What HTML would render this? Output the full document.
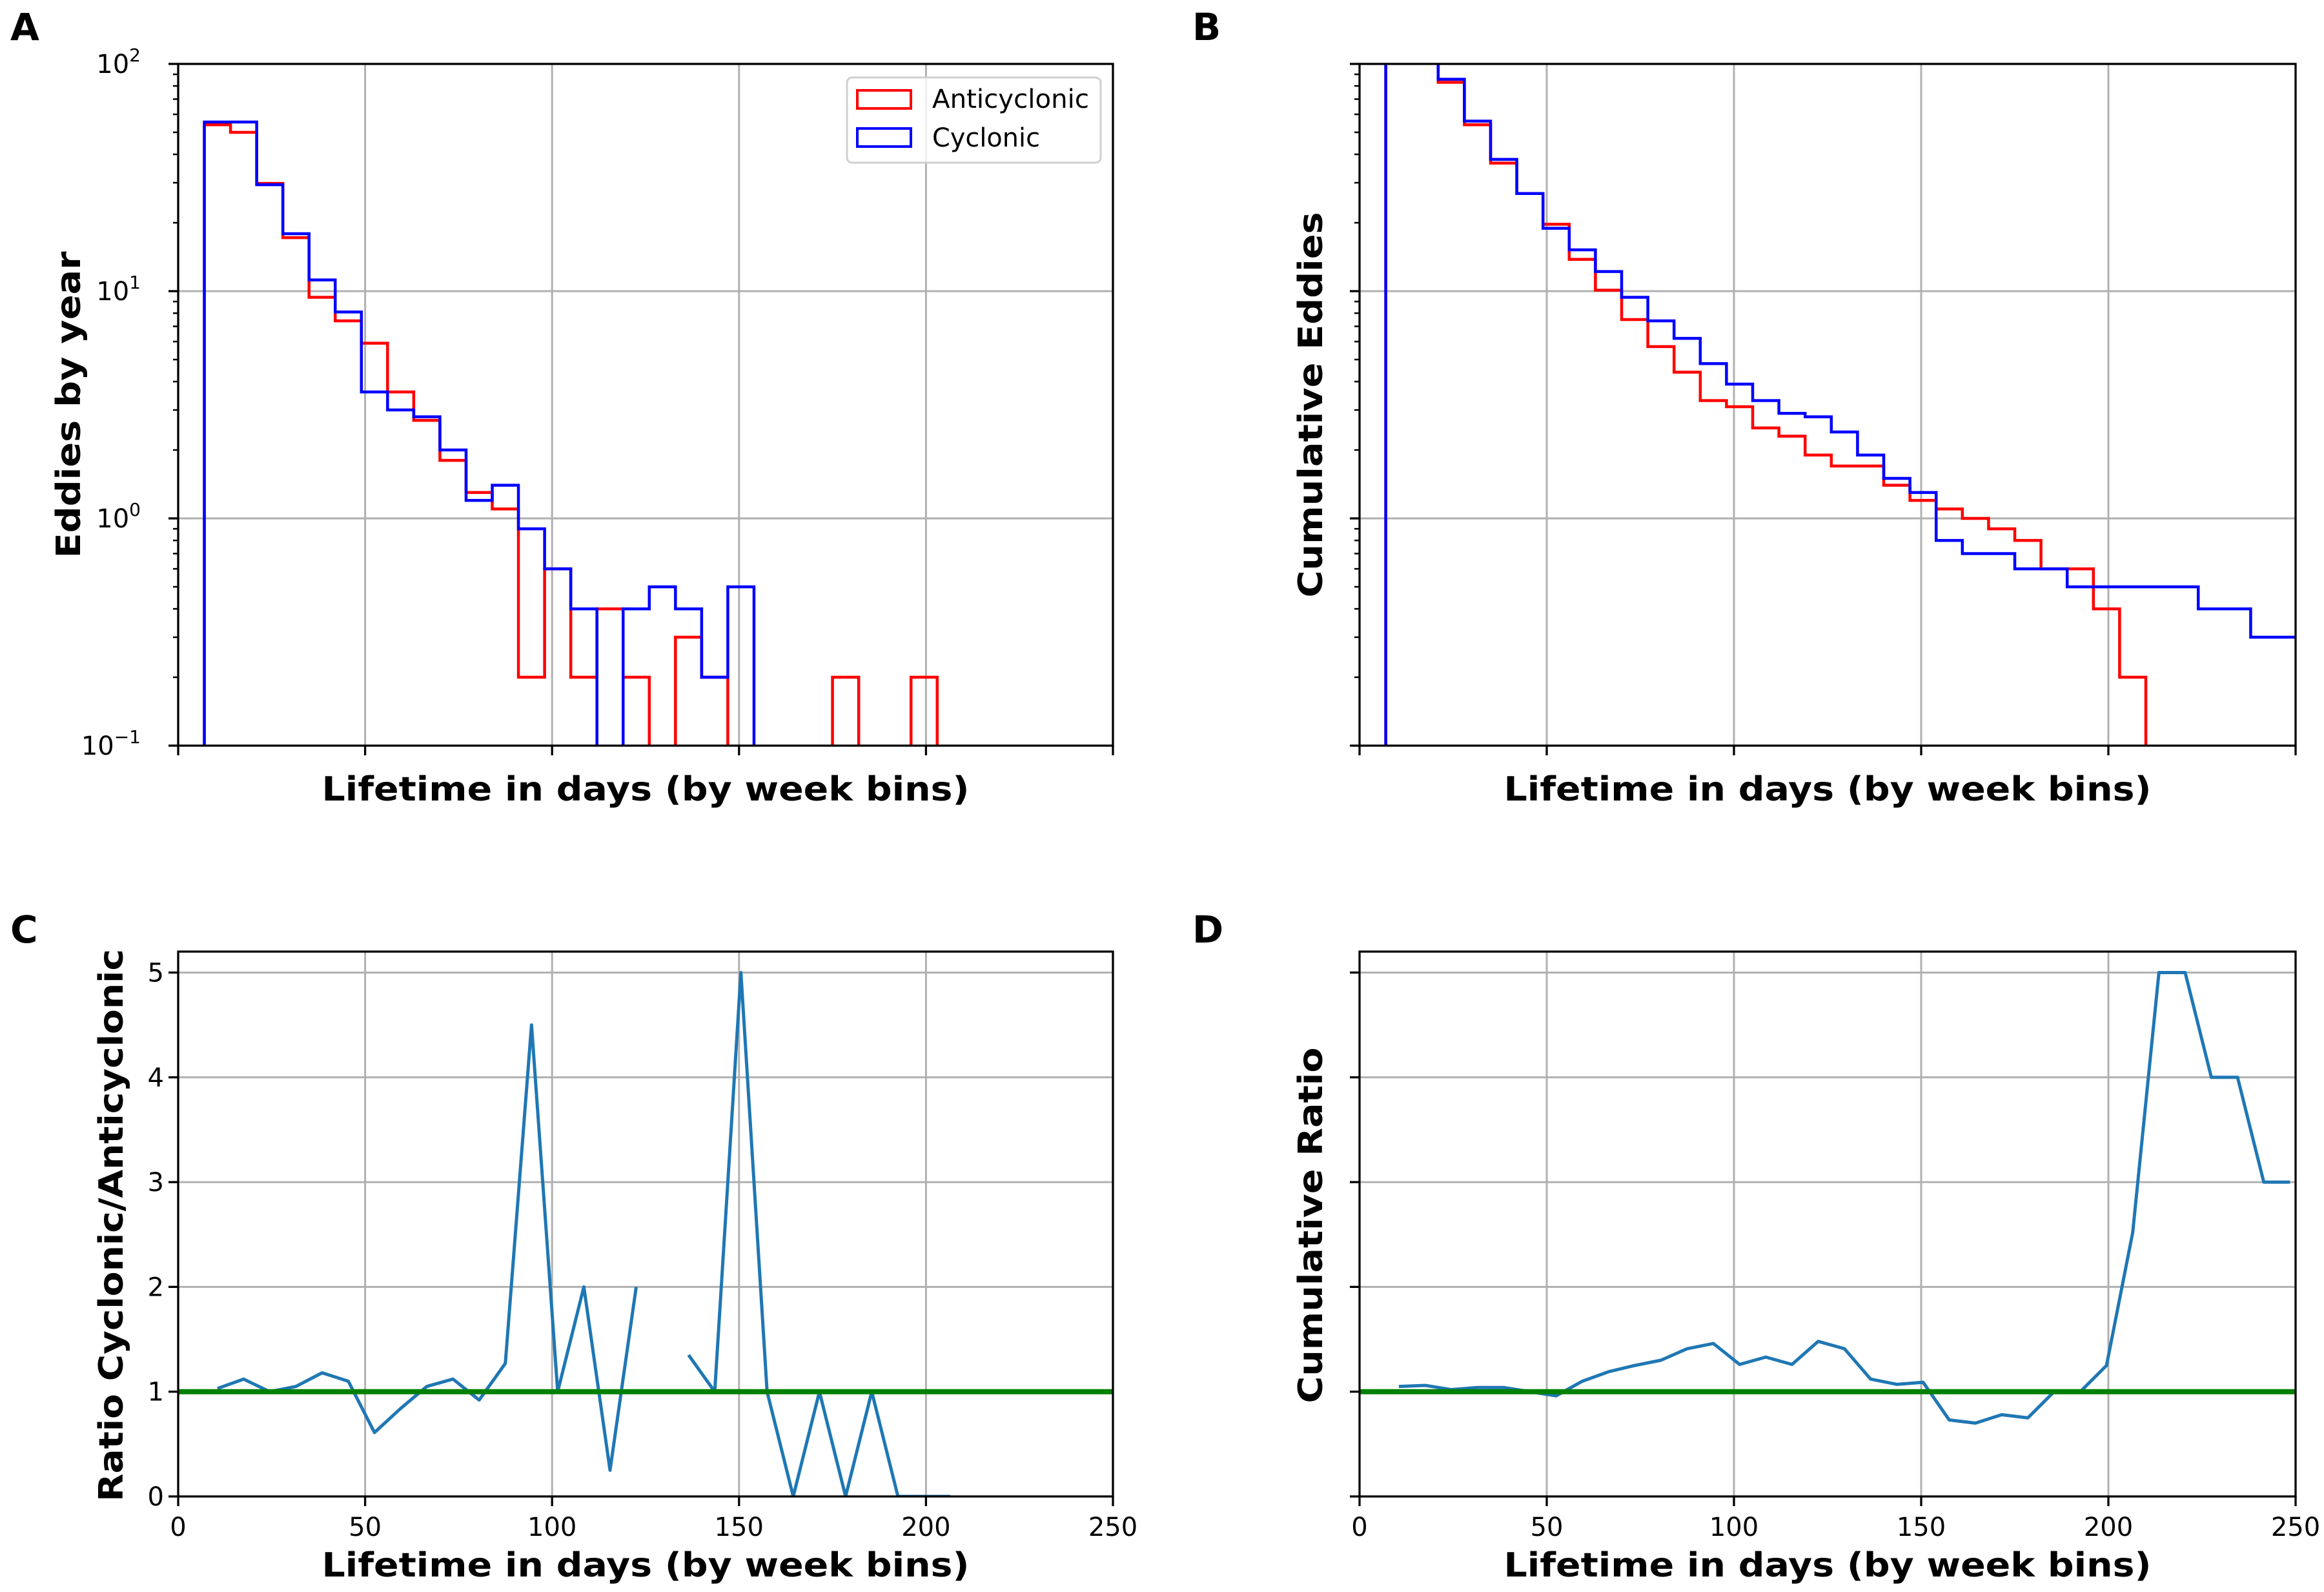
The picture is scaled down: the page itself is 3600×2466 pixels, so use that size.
<!DOCTYPE html>
<html><head><meta charset="utf-8"><style>
html,body{margin:0;padding:0;background:#fff;}
svg{display:block;font-family:"DejaVu Sans","Liberation Sans",sans-serif;}
</style></head><body>
<svg id="fig" width="3600" height="2466" viewBox="0 0 3600 2466" xmlns="http://www.w3.org/2000/svg">
<rect width="3600" height="2466" fill="#fff"/>
<defs>
<clipPath id="clipA"><rect x="276" y="99" width="1448" height="1056"/></clipPath>
<clipPath id="clipB"><rect x="2106" y="99" width="1450" height="1056"/></clipPath>
<clipPath id="clipC"><rect x="276" y="1474" width="1448" height="844"/></clipPath>
<clipPath id="clipD"><rect x="2106" y="1474" width="1450" height="844"/></clipPath>
</defs>
<g id="layer"></g>
</svg>
<script>
// ---- data ----
const binEdgesStart = 7;
const binWidth = 7;
const histAnti = [54,50,29.8,17.2,9.4,7.4,5.9,3.6,2.7,1.8,1.3,1.1,0.2,0.6,0.2,0.4,0.2,0,0.3,0.2,0,0,0,0,0.2,0,0,0.2,0,0,0,0,0,0,0];
const histCyc  = [55.5,55.5,29.4,17.9,11.2,8.1,3.6,3.0,2.8,2.0,1.2,1.4,0.9,0.6,0.4,0,0.4,0.5,0.4,0.2,0.5,0,0,0,0,0,0,0,0,0,0,0,0,0,0];
const cumAnti = [300,150,83,54,36.6,26.9,19.7,13.8,10.1,7.5,5.7,4.4,3.3,3.1,2.5,2.3,1.9,1.7,1.7,1.4,1.2,1.1,1.0,0.9,0.8,0.6,0.6,0.4,0.2,0,0,0,0,0,0];
const cumCyc  = [300,150,85.6,56,38,26.9,18.9,15.2,12.2,9.4,7.4,6.2,4.8,3.9,3.3,2.9,2.8,2.4,1.9,1.5,1.3,0.8,0.7,0.7,0.6,0.6,0.5,0.5,0.5,0.5,0.5,0.4,0.4,0.3,0.3];
const ratioX = [10.5,17.5,24.5,31.5,38.5,45.5,52.5,59.5,66.5,73.5,80.5,87.5,94.5,101.5,108.5,115.5,122.5,129.5,136.5,143.5,150.5,157.5,164.5,171.5,178.5,185.5,192.5,199.5,206.5];
const ratioY = [1.03,1.12,1.0,1.05,1.18,1.1,0.61,0.84,1.05,1.12,0.92,1.27,4.5,1.0,2.0,0.25,2.0,null,1.35,1.0,5.0,1.0,0,1.0,0,1.0,0,0,0];
const cumRatioX = [10.5,17.5,24.5,31.5,38.5,45.5,52.5,59.5,66.5,73.5,80.5,87.5,94.5,101.5,108.5,115.5,122.5,129.5,136.5,143.5,150.5,157.5,164.5,171.5,178.5,185.5,192.5,199.5,206.5,213.5,220.5,227.5,234.5,241.5,248.5];
const cumRatioY = [1.05,1.06,1.02,1.04,1.04,1.0,0.96,1.1,1.19,1.25,1.30,1.41,1.46,1.26,1.33,1.26,1.48,1.41,1.12,1.07,1.09,0.73,0.70,0.78,0.75,1.0,1.0,1.25,2.52,5,5,4,4,3,3];
const xTicks = [0,50,100,150,200,250];
const linTicks = [0,1,2,3,4,5];
const logTicks = [-1,0,1,2];

const NS="http://www.w3.org/2000/svg";
const layer=document.getElementById('layer');
function mk(tag,attrs,parent){const e=document.createElementNS(NS,tag);for(const k in attrs)e.setAttribute(k,attrs[k]);(parent||layer).appendChild(e);return e;}

const AX={
 A:{l:276,r:1724,t:99,b:1155,log:true,clip:'clipA'},
 B:{l:2106,r:3556,t:99,b:1155,log:true,clip:'clipB'},
 C:{l:276,r:1724,t:1474,b:2318,log:false,clip:'clipC'},
 D:{l:2106,r:3556,t:1474,b:2318,log:false,clip:'clipD'}
};
function xs(ax,v){return ax.l+(v-0)/250*(ax.r-ax.l);}
function ys(ax,v){
 if(ax.log){const lv=v<=0?-3:Math.log10(v);return ax.b-(lv+1)/3*(ax.b-ax.t);}
 return ax.b-v/5.2*(ax.b-ax.t);
}

function drawAxes(key,showXLabels,showYLabels){
 const ax=AX[key];
 xTicks.forEach(t=>{const x=xs(ax,t);
  const g=mk('line',{x1:x,x2:x,y1:ax.t,y2:ax.b,stroke:'#b0b0b0','stroke-width':3});
  
  
  const tk=mk('line',{x1:x,x2:x,y1:ax.b,y2:ax.b+15,stroke:'#000','stroke-width':3.3});
  
  
  if(showXLabels){const tl=mk('text',{x:x,y:2379,'font-size':40,'text-anchor':'middle',fill:'#000'});tl.textContent=String(t);
   
   }
 });
 if(ax.log){
  logTicks.forEach(d=>{const y=ys(ax,Math.pow(10,d));
   const g=mk('line',{x1:ax.l,x2:ax.r,y1:y,y2:y,stroke:'#b0b0b0','stroke-width':3});
   
   
   const tk=mk('line',{x1:ax.l-15,x2:ax.l,y1:y,y2:y,stroke:'#000','stroke-width':3.3});
   
   
   if(d<2){for(let m=2;m<=9;m++){const ym=ys(ax,m*Math.pow(10,d));
    const mt=mk('line',{x1:ax.l-8,x2:ax.l,y1:ym,y2:ym,stroke:'#000','stroke-width':2.5});
    
    }}
   if(showYLabels){const tl=mk('text',{x:ax.l-58,y:y+14,'font-size':40,'text-anchor':'end',fill:'#000'});
    tl.textContent='10';
    const sp=document.createElementNS(NS,'tspan');sp.setAttribute('font-size','28');sp.setAttribute('dy','-18');sp.textContent=(d<0?'\u2212':'')+Math.abs(d);tl.appendChild(sp);
    
    }
  });
 } else {
  linTicks.forEach(t=>{const y=ys(ax,t);
   const g=mk('line',{x1:ax.l,x2:ax.r,y1:y,y2:y,stroke:'#b0b0b0','stroke-width':3});
   
   
   const tk=mk('line',{x1:ax.l-15,x2:ax.l,y1:y,y2:y,stroke:'#000','stroke-width':3.3});
   
   
   if(showYLabels){const tl=mk('text',{x:ax.l-22,y:y+14,'font-size':40,'text-anchor':'end',fill:'#000'});tl.textContent=String(t);
    
    }
  });
 }
}
function drawFrame(key){
 const ax=AX[key];
 const f=mk('rect',{x:ax.l,y:ax.t,width:ax.r-ax.l,height:ax.b-ax.t,fill:'none',stroke:'#000','stroke-width':3.3});
 
 
}
function histPath(ax,vals){
 let d='M'+xs(ax,binEdgesStart)+','+(ax.b+20);
 vals.forEach((v,i)=>{const x0=xs(ax,binEdgesStart+i*binWidth),x1=xs(ax,binEdgesStart+(i+1)*binWidth);
  let y=ys(ax,v); if(v<=0) y=ax.b+20;
  d+=' L'+x0+','+y+' L'+x1+','+y;});
 d+=' L'+xs(ax,binEdgesStart+vals.length*binWidth)+','+(ax.b+20);
 return d;
}
function linePath(ax,xsArr,ysArr){
 let d='',pen=false;
 xsArr.forEach((x,i)=>{const v=ysArr[i];if(v===null||v===undefined){pen=false;return;}
  d+=(pen?' L':' M')+xs(ax,x)+','+ys(ax,v);pen=true;});
 return d;
}

// Panel A
drawAxes('A',false,true);
let g=mk('g',{'clip-path':'url(#clipA)'});
let p=mk('path',{d:histPath(AX.A,histAnti),fill:'none',stroke:'#ff0000','stroke-width':4.5,'stroke-linejoin':'miter'},g);


p=mk('path',{d:histPath(AX.A,histCyc),fill:'none',stroke:'#0000ff','stroke-width':4.5,'stroke-linejoin':'miter'},g);


drawFrame('A');

// Panel B
drawAxes('B',false,false);
g=mk('g',{'clip-path':'url(#clipB)'});
p=mk('path',{d:histPath(AX.B,cumAnti),fill:'none',stroke:'#ff0000','stroke-width':4.5},g);


p=mk('path',{d:histPath(AX.B,cumCyc),fill:'none',stroke:'#0000ff','stroke-width':4.5},g);


drawFrame('B');

// Panel C
drawAxes('C',true,true);
g=mk('g',{'clip-path':'url(#clipC)'});
p=mk('path',{d:linePath(AX.C,ratioX,ratioY),fill:'none',stroke:'#1f77b4','stroke-width':5,'stroke-linejoin':'round'},g);


p=mk('line',{x1:AX.C.l,x2:AX.C.r,y1:ys(AX.C,1),y2:ys(AX.C,1),stroke:'#008000','stroke-width':8},g);


drawFrame('C');

// Panel D
drawAxes('D',true,false);
g=mk('g',{'clip-path':'url(#clipD)'});
p=mk('path',{d:linePath(AX.D,cumRatioX,cumRatioY),fill:'none',stroke:'#1f77b4','stroke-width':5,'stroke-linejoin':'round'},g);


p=mk('line',{x1:AX.D.l,x2:AX.D.r,y1:ys(AX.D,1),y2:ys(AX.D,1),stroke:'#008000','stroke-width':8},g);


drawFrame('D');
</script>
<svg style="position:absolute;left:0;top:0" width="3600" height="2466" xmlns="http://www.w3.org/2000/svg">
<g font-family="DejaVu Sans, Liberation Sans, sans-serif" font-weight="bold" fill="#000">
<text x="16" y="62" font-size="58">A</text>
<text x="1847" y="62" font-size="58">B</text>
<text x="16" y="1460" font-size="58">C</text>
<text x="1847" y="1460" font-size="58">D</text>
<text x="1000" y="1240" font-size="52" text-anchor="middle" textLength="1003" lengthAdjust="spacingAndGlyphs">Lifetime in days (by week bins)</text>
<text x="2831" y="1240" font-size="52" text-anchor="middle" textLength="1003" lengthAdjust="spacingAndGlyphs">Lifetime in days (by week bins)</text>
<text x="1000" y="2442" font-size="52" text-anchor="middle" textLength="1003" lengthAdjust="spacingAndGlyphs">Lifetime in days (by week bins)</text>
<text x="2831" y="2442" font-size="52" text-anchor="middle" textLength="1003" lengthAdjust="spacingAndGlyphs">Lifetime in days (by week bins)</text>
<text transform="translate(124,627) rotate(-90)" font-size="52" text-anchor="middle" textLength="475" lengthAdjust="spacingAndGlyphs">Eddies by year</text>
<text transform="translate(2048,627) rotate(-90)" font-size="52" text-anchor="middle" textLength="597" lengthAdjust="spacingAndGlyphs">Cumulative Eddies</text>
<text transform="translate(190,1898) rotate(-90)" font-size="52" text-anchor="middle" textLength="856" lengthAdjust="spacingAndGlyphs">Ratio Cyclonic/Anticyclonic</text>
<text transform="translate(2048,1898) rotate(-90)" font-size="52" text-anchor="middle" textLength="551" lengthAdjust="spacingAndGlyphs">Cumulative Ratio</text>
</g>
<g>
<rect x="1312" y="120" width="393" height="132" rx="8" fill="#fff" fill-opacity="0.8" stroke="#d0d0d0" stroke-width="3"/>
<rect x="1328" y="140" width="83" height="28" fill="none" stroke="#ff0000" stroke-width="4"/>
<text x="1444" y="167" font-family="DejaVu Sans, Liberation Sans, sans-serif" font-size="40" textLength="243" lengthAdjust="spacingAndGlyphs">Anticyclonic</text>
<rect x="1328" y="199" width="83" height="28" fill="none" stroke="#0000ff" stroke-width="4"/>
<text x="1444" y="227" font-family="DejaVu Sans, Liberation Sans, sans-serif" font-size="40" textLength="167" lengthAdjust="spacingAndGlyphs">Cyclonic</text>
</g>
</svg>
</body></html>
